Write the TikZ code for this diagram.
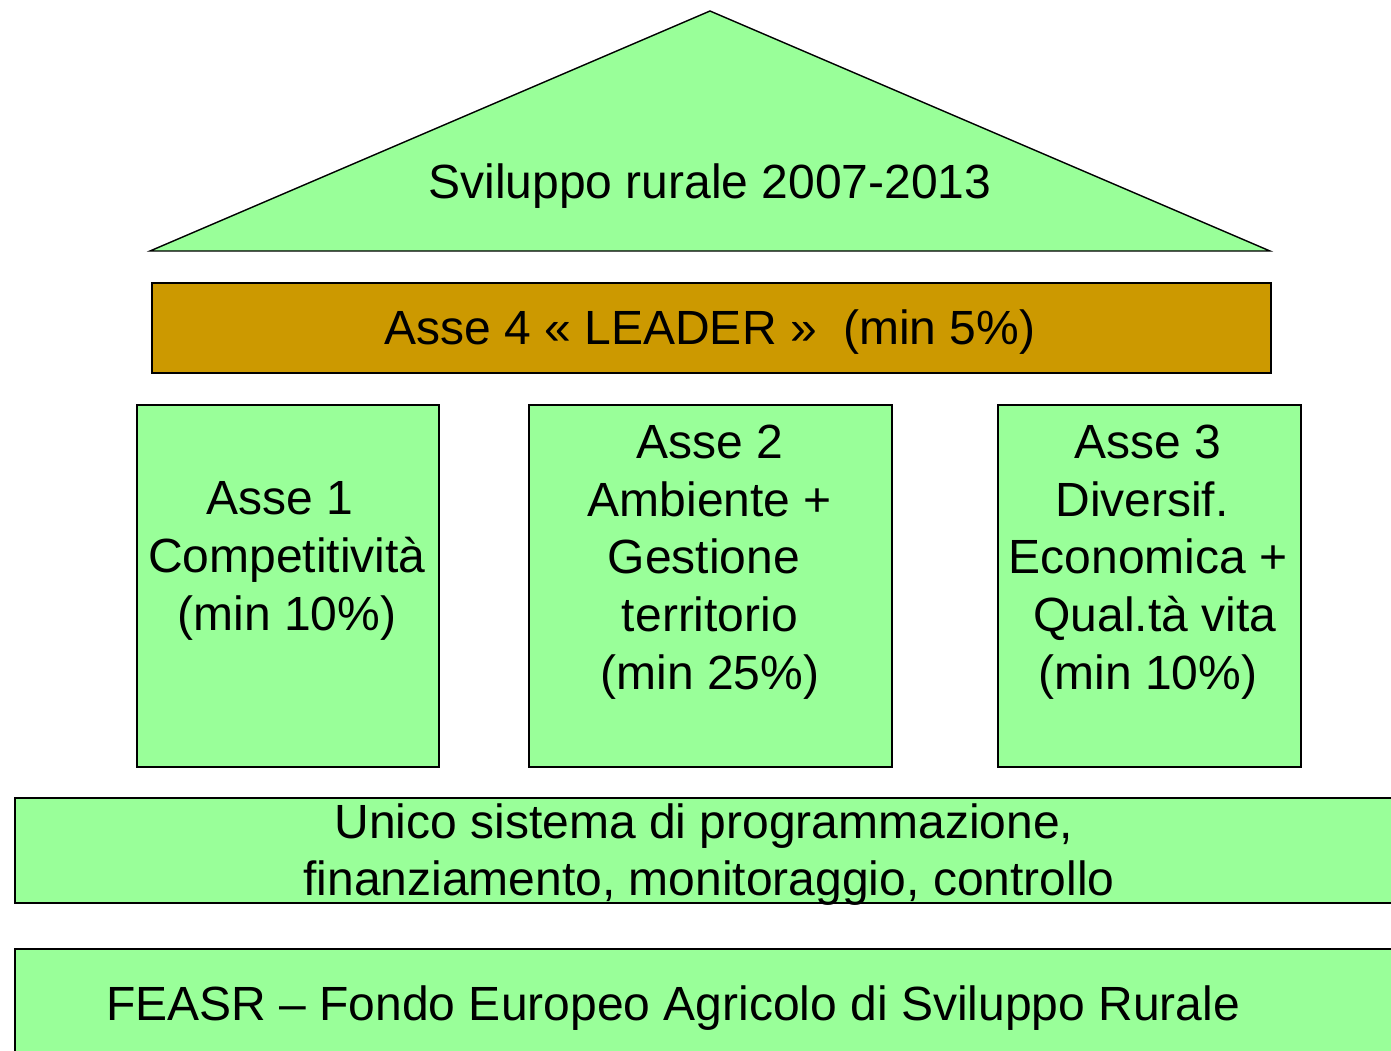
\documentclass[tikz,border=0pt]{standalone}
\usepackage{fontspec}
\setmainfont{Liberation Sans}
\definecolor{lgreen}{HTML}{99FF99}
\definecolor{gold}{HTML}{CC9900}
\newcommand{\padr}[1]{\rule{#1}{0pt}}
\begin{document}
\begin{tikzpicture}[x=1pt,y=-1pt,
  panel/.style={draw=black, line width=1.6pt, inner sep=0pt, anchor=north west},
  txt/.style={font=\fontsize{48}{57.6}\selectfont, align=center, inner sep=0pt, text=black}]
\useasboundingbox (0,0) rectangle (1391,1050);
\clip (0,0) rectangle (1391,1050);
% roof
\coordinate (apex) at (710,11);
\coordinate (bl) at (150,251);
\coordinate (br) at (1270,251);
\draw[fill=lgreen, line width=1.4pt, line join=miter] (apex) -- (br) -- (bl) -- cycle;
\node[txt, anchor=base] (roof) at (710,198) {Sviluppo rurale 2007-2013};
% Asse 4
\node[panel, fill=gold, minimum width=1119pt, minimum height=90pt] (a4) at (151,282) {};
\node[txt, anchor=base] (a4t) at (710,344) {Asse 4 « LEADER »~~(min 5\%)};
% pillars
\node[panel, fill=lgreen, minimum width=302pt, minimum height=362pt] (a1) at (136,404) {};
\node[panel, fill=lgreen, minimum width=363pt, minimum height=362pt] (a2) at (528,404) {};
\node[panel, fill=lgreen, minimum width=303pt, minimum height=362pt] (a3) at (997,404) {};
\node[txt] (a1t) at (287,561) {Asse 1\padr{15pt}\\Competitività\\(min 10\%)};
\node[txt] (a2t) at (710,562) {Asse 2\\Ambiente +\\Gestione\padr{12pt}\\territorio\\(min 25\%)};
\node[txt] (a3t) at (1148,562) {Asse 3\\Diversif.\padr{12pt}\\Economica +\\\padr{14pt}Qual.tà vita\\(min 10\%)};
% base bands
\node[panel, fill=lgreen, minimum width=1400pt, minimum height=105pt] (unico) at (14,797) {};
\node[txt, anchor=base] (unicot1) at (704,838) {Unico sistema di programmazione,};
\node[txt, anchor=base] (unicot2) at (709,895) {finanziamento, monitoraggio, controllo};
\node[panel, fill=lgreen, minimum width=1400pt, minimum height=130pt] (feasr) at (14,948) {};
\node[txt, anchor=base west] (feasrt) at (106,1020) {FEASR – Fondo Europeo Agricolo di Sviluppo Rurale};
\end{tikzpicture}
\end{document}
